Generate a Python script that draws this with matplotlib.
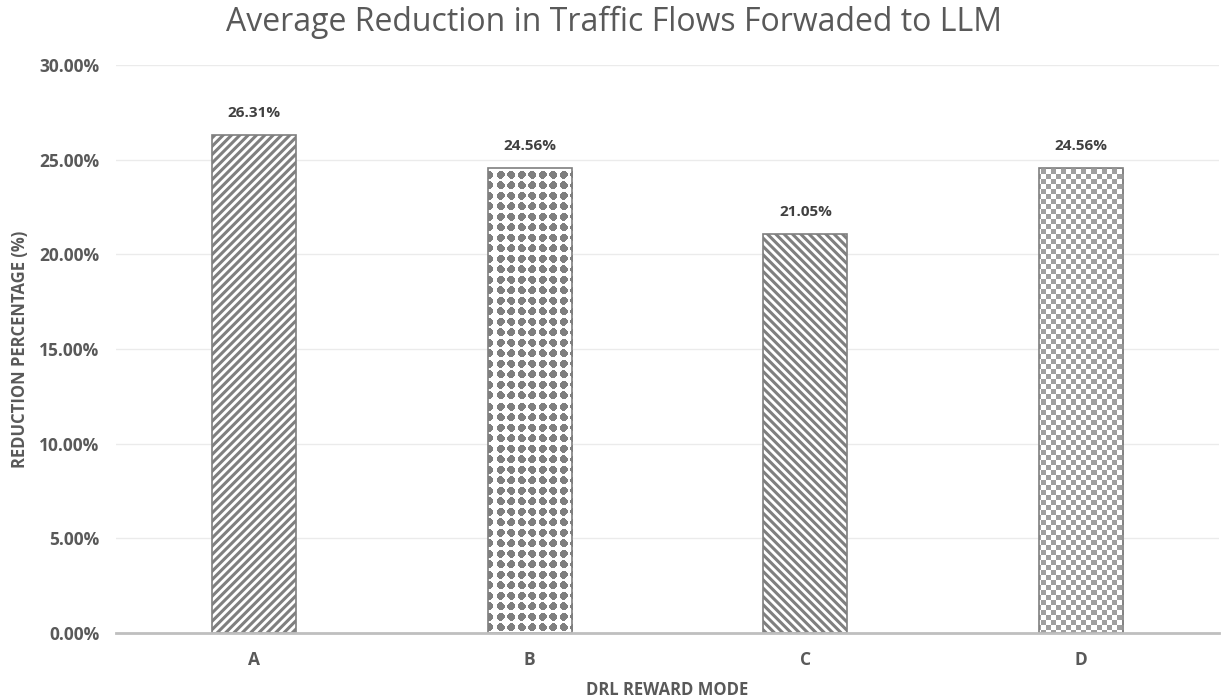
import numpy as np
import matplotlib
matplotlib.use("Agg")
import matplotlib.pyplot as plt
from matplotlib.ticker import FuncFormatter

# chart data
modes = ["A", "B", "C", "D"]
reduction = [26.31, 24.56, 21.05, 24.56]
y_ticks = [0, 5, 10, 15, 20, 25, 30]

plt.rcParams["font.family"] = ["Open Sans", "DejaVu Sans"]
plt.rcParams["hatch.linewidth"] = 2.2

text_grey = "#595959"
mark_grey = "#7f7f7f"

fig = plt.figure(figsize=(12.21, 7), dpi=100)
ax = fig.add_axes([116 / 1221, 67 / 700, 1103 / 1221, 568 / 700])

x = np.arange(len(modes))
bars = ax.bar(x, reduction, width=0.305, color="white", edgecolor=mark_grey,
              linewidth=1.2, zorder=2)

# hatch patterns for the striped bars
bars[0].set_hatch("////")
bars[2].set_hatch("\\\\\\\\")


def texture(kind, w, h):
    yy, xx = np.mgrid[0:h, 0:w]
    img = np.ones((h, w, 4))
    if kind == "diamond":
        p = 10.5
        dx = np.abs((xx % p) - p / 2)
        dy = np.abs((yy % p) - p / 2)
        on = (dx + dy <= 5.2) & (np.maximum(dx, dy) <= 4.0)
        img[on, :3] = 0x7f / 255
    else:
        c = 5
        on = ((xx // c) + (yy // c)) % 2 == 0
        img[on, :3] = 0x9f / 255
    return img


# pixel-level textures for the dotted and checkered bars
W, H = 1103, 568
for i, kind in [(1, "diamond"), (3, "checker")]:
    tex = texture(kind, W, H)
    im = ax.imshow(tex, extent=(-0.5, 3.5, 0, 30), aspect="auto",
                   interpolation="nearest", zorder=2.2, origin="upper")
    im.set_clip_path(bars[i])
    bars[i].set_facecolor("none")
    bars[i].set_zorder(2.5)

for xi, v in zip(x, reduction):
    ax.annotate(f"{v:.2f}%", (xi, v), xytext=(0, 11), textcoords="offset points",
                ha="center", va="bottom", fontsize=11, fontweight="bold",
                color="#404040")

ax.set_xlim(-0.5, 3.5)
ax.set_ylim(0, 30)
ax.set_yticks(y_ticks)
ax.yaxis.set_major_formatter(FuncFormatter(lambda v, _: f"{v:.2f}%"))
ax.set_xticks(x)
ax.set_xticklabels(modes)

ax.grid(axis="y", color="#ebebeb", linewidth=1, zorder=0)
ax.set_axisbelow(True)
for side in ["top", "right", "left"]:
    ax.spines[side].set_visible(False)
ax.spines["bottom"].set_color("#bfbfbf")
ax.spines["bottom"].set_linewidth(2)
ax.spines["bottom"].set_zorder(3)

ax.tick_params(axis="both", length=0, labelsize=12.5, labelcolor=text_grey)
ax.tick_params(axis="y", pad=12)
ax.tick_params(axis="x", pad=13)
for lab in ax.get_xticklabels() + ax.get_yticklabels():
    lab.set_fontweight("bold")

ax.set_ylabel("REDUCTION PERCENTAGE (%)", fontsize=12, fontweight="bold",
              color=text_grey)
ax.yaxis.set_label_coords(-0.087, 0.5)
ax.yaxis.label.set_va("center")
ax.set_xlabel("DRL REWARD MODE", fontsize=12, fontweight="bold", color=text_grey)
ax.xaxis.set_label_coords(0.5, -0.1003)
ax.xaxis.label.set_va("center")

fig.text(0.503, 0.968, "Average Reduction in Traffic Flows Forwaded to LLM",
         ha="center", va="center", fontsize=23, color=text_grey)

fig.savefig("out.png", dpi=100)
